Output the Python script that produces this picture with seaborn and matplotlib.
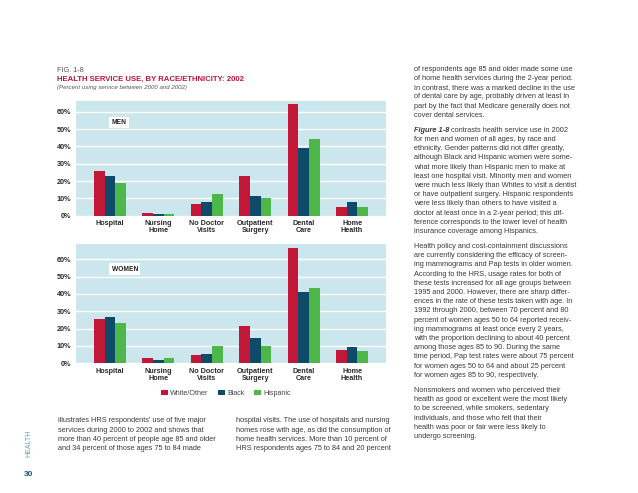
import matplotlib
matplotlib.use("Agg")
import matplotlib.pyplot as plt
import pandas as pd
import seaborn as sns

# --- data ---------------------------------------------------------------
categories = ["Hospital", "Nursing\nHome", "No Doctor\nVisits",
              "Outpatient\nSurgery", "Dental\nCare", "Home\nHealth"]
groups = ["White/Other", "Black", "Hispanic"]

men_white = [25.8, 1.8, 6.7, 22.7, 64.3, 5.2]
men_black = [23.0, 1.1, 7.9, 11.3, 39.2, 8.1]
men_hispanic = [19.0, 1.0, 12.5, 10.0, 44.0, 5.2]

women_white = [25.6, 2.9, 5.0, 21.5, 66.5, 7.7]
women_black = [26.5, 1.9, 5.4, 14.6, 41.3, 9.2]
women_hispanic = [23.3, 2.9, 10.0, 10.0, 43.5, 7.3]

y_ticks = [0, 10, 20, 30, 40, 50, 60]

left_col = ["illustrates HRS respondents' use of five major",
            "services during 2000 to 2002 and shows that",
            "more than 40 percent of people age 85 and older",
            "and 34 percent of those ages 75 to 84 made"]
mid_col = ["hospital visits. The use of hospitals and nursing",
           "homes rose with age, as did the consumption of",
           "home health services. More than 10 percent of",
           "HRS respondents ages 75 to 84 and 20 percent"]
right_paras = [
    ["of respondents age 85 and older made some use",
     "of home health services during the 2-year period.",
     "In contrast, there was a marked decline in the use",
     "of dental care by age, probably driven at least in",
     "part by the fact that Medicare generally does not",
     "cover dental services."],
    ["Figure 1-8| contrasts health service use in 2002",
     "for men and women of all ages, by race and",
     "ethnicity. Gender patterns did not differ greatly,",
     "although Black and Hispanic women were some-",
     "what more likely than Hispanic men to make at",
     "least one hospital visit. Minority men and women",
     "were much less likely than Whites to visit a dentist",
     "or have outpatient surgery. Hispanic respondents",
     "were less likely than others to have visited a",
     "doctor at least once in a 2-year period; this dif-",
     "ference corresponds to the lower level of health",
     "insurance coverage among Hispanics."],
    ["Health policy and cost-containment discussions",
     "are currently considering the efficacy of screen-",
     "ing mammograms and Pap tests in older women.",
     "According to the HRS, usage rates for both of",
     "these tests increased for all age groups between",
     "1995 and 2000. However, there are sharp differ-",
     "ences in the rate of these tests taken with age. In",
     "1992 through 2000, between 70 percent and 80",
     "percent of women ages 50 to 64 reported receiv-",
     "ing mammograms at least once every 2 years,",
     "with the proportion declining to about 40 percent",
     "among those ages 85 to 90. During the same",
     "time period, Pap test rates were about 75 percent",
     "for women ages 50 to 64 and about 25 percent",
     "for women ages 85 to 90, respectively."],
    ["Nonsmokers and women who perceived their",
     "health as good or excellent were the most likely",
     "to be screened, while smokers, sedentary",
     "individuals, and those who felt that their",
     "health was poor or fair were less likely to",
     "undergo screening."],
]

palette = {"White/Other": "#C3173A", "Black": "#0E4B69", "Hispanic": "#4DB849"}
panel_bg = "#CCE6EE"
text_col = "#3b3b3b"


def long_df(white, black, hispanic):
    rows = []
    for g, vals in zip(groups, [white, black, hispanic]):
        for c, v in zip(categories, vals):
            rows.append({"service": c, "group": g, "pct": v})
    return pd.DataFrame(rows)


sns.set_style("white")
plt.rcParams["font.family"] = ["Liberation Sans", "DejaVu Sans"]

W, H = 638, 493
fig = plt.figure(figsize=(W / 100, H / 100), dpi=100)


def px(x, y):
    return x / W, 1 - y / H


def box(left, top, right, bottom):
    return [left / W, 1 - bottom / H, (right - left) / W, (bottom - top) / H]


ax_men = fig.add_axes(box(76, 101, 386, 215.7))
ax_women = fig.add_axes(box(76, 244, 386, 363.3))

for ax, df, ymax, label, show_leg in [
        (ax_men, long_df(men_white, men_black, men_hispanic), 66.2, "MEN", False),
        (ax_women, long_df(women_white, women_black, women_hispanic), 68.8, "WOMEN", True)]:
    ax.set_facecolor(panel_bg)
    ax.set_axisbelow(True)
    sns.barplot(data=df, x="service", y="pct", hue="group", palette=palette,
                width=0.66, saturation=1, linewidth=0, ax=ax, legend=show_leg)
    ax.set_xlim(-0.70, 5.70)
    ax.set_ylim(0, ymax)
    ax.set_yticks(y_ticks)
    ax.set_yticklabels([f"{t}%" for t in y_ticks])
    ax.yaxis.grid(True, color="white", linewidth=1.0)
    ax.xaxis.grid(False)
    for s in ax.spines.values():
        s.set_visible(False)
    ax.tick_params(length=0, labelsize=5.2, labelcolor="#2b2b2b", pad=3.2)
    for t in ax.get_xticklabels() + ax.get_yticklabels():
        t.set_fontweight("bold")
    for t in ax.get_xticklabels():
        t.set_linespacing(1.0)
    ax.set_xlabel("")
    ax.set_ylabel("")
    ax.text(0.115, 0.815 if label == "MEN" else 0.79, label, transform=ax.transAxes,
            fontsize=4.8, fontweight="bold", color="#222222", va="center", ha="left",
            bbox=dict(facecolor="white", edgecolor="none", pad=1.6))

handles, labels = ax_women.get_legend_handles_labels()
ax_women.get_legend().remove()
fig.legend(handles, labels, loc="center", bbox_to_anchor=px(226, 393.3), ncol=3,
           frameon=False, fontsize=5.1, handlelength=0.9, handleheight=0.9,
           handletextpad=0.35, columnspacing=1.4, labelcolor="#444444")

# --- figure header ---------------------------------------------------------
fig.text(*px(57, 69.3), "FIG. 1-8", fontsize=5.2, color="#555555", va="center_baseline")
fig.text(*px(57, 78.3), "HEALTH SERVICE USE, BY RACE/ETHNICITY: 2002", fontsize=5.6,
         fontweight="bold", color="#B8173A", va="center_baseline")
fig.text(*px(57, 87.3), "(Percent using service between 2000 and 2002)", fontsize=4.4,
         style="italic", color="#555555", va="center_baseline")

# --- body text -------------------------------------------------------------
body = dict(fontsize=5.3, color=text_col, va="center_baseline", ha="left")
line_h = 9.2
for i, line in enumerate(left_col):
    fig.text(*px(57.7, 420 + i * line_h), line, **body)
for i, line in enumerate(mid_col):
    fig.text(*px(236, 420 + i * line_h), line, **body)

renderer = fig.canvas.get_renderer()
y = 68.3
for para in right_paras:
    for line in para:
        if "|" in line:
            head, rest = line.split("|")
            t = fig.text(*px(414, y), head, fontweight="bold", style="italic",
                         **body)
            w = t.get_window_extent(renderer=renderer).width
            fig.text(*px(414 + w, y), rest, **body)
        else:
            fig.text(*px(414, y), line, **body)
        y += line_h
    y += 15 - line_h

fig.text(*px(28.5, 443), "HEALTH", rotation=90, fontsize=5.0, color="#5BA4BE",
         ha="center", va="center")
fig.text(*px(29, 474), "30", fontsize=6.0, fontweight="bold", color="#1E556E",
         ha="center", va="center")

fig.savefig("out.png", dpi=100, facecolor="white")
